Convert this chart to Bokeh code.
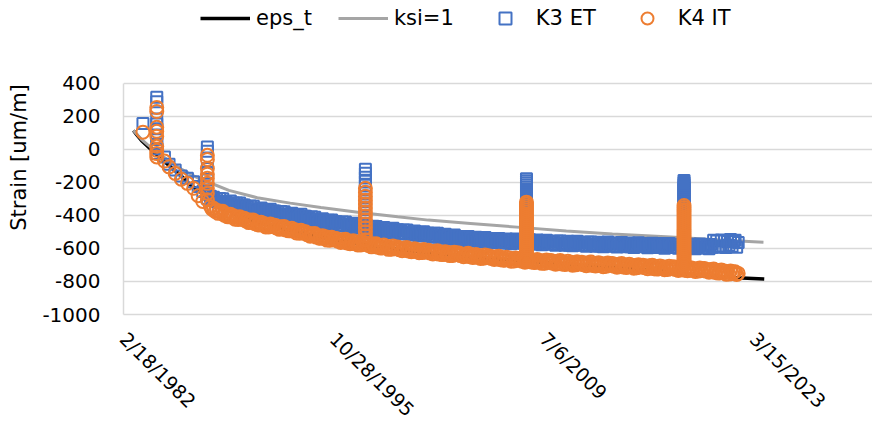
import math
import pandas as pd
from bokeh.plotting import figure
from bokeh.models import Range1d, FixedTicker, Legend, LegendItem
from bokeh.embed import file_html
from bokeh.resources import INLINE

# ---------------- data ----------------
y_ticks = [-1000, -800, -600, -400, -200, 0, 200, 400]
y_tick_labels = ["-1000", "-800", "-600", "-400", "-200", "0", "200", "400"]
x_tick_dates = ["1982-02-18", "1995-10-28", "2009-07-06", "2023-03-15"]
x_tick_labels = ["2/18/1982", "10/28/1995", "7/6/2009", "3/15/2023"]
x_start_date = "1982-02-18"
x_end_date = "2030-12-16"

# model curves (decimal year, strain um/m)
eps_years = [1982.78, 1983.0, 1983.3, 1983.7, 1984.1, 1984.6, 1985.2, 1985.9, 1986.5, 1987.5,
             1988.5, 1990.0, 1992.0, 1994.0, 1996.0, 1998.0, 2000.0, 2003.0, 2006.0, 2009.0,
             2012.0, 2015.0, 2017.0, 2019.5, 2021.0, 2023.9]
eps_t = [115, 88, 55, 20, -15, -55, -105, -160, -215, -280,
         -345, -420, -470, -510, -550, -580, -605, -635, -660, -680,
         -700, -720, -735, -762, -772, -785]

ksi_years = [1982.78, 1983.0, 1983.3, 1983.7, 1984.1, 1984.6, 1985.2, 1985.9, 1986.5, 1987.2,
             1987.8, 1989.0, 1990.85, 1993.0, 1995.0, 1997.4, 2000.0, 2002.0, 2004.75, 2008.0,
             2011.0, 2014.0, 2017.8, 2021.0, 2023.85]
ksi_1 = [115, 92, 62, 30, 0, -35, -75, -118, -150, -183,
         -203, -248, -292, -325, -352, -380, -408, -428, -448, -472,
         -494, -512, -530, -549, -562]

# measurements: early readings (incl. two spikes)
early_years = [1983.4,
               1984.3, 1984.3, 1984.3, 1984.3, 1984.3, 1984.3, 1984.3, 1984.3, 1984.3,
               1984.8, 1985.1, 1985.5, 1985.9, 1986.3, 1986.7, 1987.0, 1987.3,
               1987.6, 1987.6, 1987.6, 1987.6, 1987.6, 1987.6, 1987.6, 1987.6, 1987.6]
early_k3 = [158,
            317, 290, 185, 155, 125, 60, 30, 5, -25,
            -45, -90, -125, -160, -175, -195, -225, -255,
            15, -10, -115, -140, -185, -210, -245, -270, -295]
early_k4 = [105,
            255, 230, 135, 110, 80, 20, -5, -25, -45,
            -70, -105, -145, -180, -205, -235, -280, -315,
            -35, -60, -115, -150, -175, -205, -235, -265, -305]

# regular readings (every ~0.1 year)
band_years = [1987.8, 1987.9,
    1988.0, 1988.1, 1988.2, 1988.3, 1988.4, 1988.5, 1988.6, 1988.7, 1988.8, 1988.9,
    1989.0, 1989.1, 1989.2, 1989.3, 1989.4, 1989.5, 1989.6, 1989.7, 1989.8, 1989.9,
    1990.0, 1990.1, 1990.2, 1990.3, 1990.4, 1990.5, 1990.6, 1990.7, 1990.8, 1990.9,
    1991.0, 1991.1, 1991.2, 1991.3, 1991.4, 1991.5, 1991.6, 1991.7, 1991.8, 1991.9,
    1992.0, 1992.1, 1992.2, 1992.3, 1992.4, 1992.5, 1992.6, 1992.7, 1992.8, 1992.9,
    1993.0, 1993.1, 1993.2, 1993.3, 1993.4, 1993.5, 1993.6, 1993.7, 1993.8, 1993.9,
    1994.0, 1994.1, 1994.2, 1994.3, 1994.4, 1994.5, 1994.6, 1994.7, 1994.8, 1994.9,
    1995.0, 1995.1, 1995.2, 1995.3, 1995.4, 1995.5, 1995.6, 1995.7, 1995.8, 1995.9,
    1996.0, 1996.1, 1996.2, 1996.3, 1996.4, 1996.5, 1996.6, 1996.7, 1996.8, 1996.9,
    1997.0, 1997.1, 1997.2, 1997.3, 1997.4, 1997.5, 1997.6, 1997.7, 1997.8, 1997.9,
    1998.0, 1998.1, 1998.2, 1998.3, 1998.4, 1998.5, 1998.6, 1998.7, 1998.8, 1998.9,
    1999.0, 1999.1, 1999.2, 1999.3, 1999.4, 1999.5, 1999.6, 1999.7, 1999.8, 1999.9,
    2000.0, 2000.1, 2000.2, 2000.3, 2000.4, 2000.5, 2000.6, 2000.7, 2000.8, 2000.9,
    2001.0, 2001.1, 2001.2, 2001.3, 2001.4, 2001.5, 2001.6, 2001.7, 2001.8, 2001.9,
    2002.0, 2002.1, 2002.2, 2002.3, 2002.4, 2002.5, 2002.6, 2002.7, 2002.8, 2002.9,
    2003.0, 2003.1, 2003.2, 2003.3, 2003.4, 2003.5, 2003.6, 2003.7, 2003.8, 2003.9,
    2004.0, 2004.1, 2004.2, 2004.3, 2004.4, 2004.5, 2004.6, 2004.7, 2004.8, 2004.9,
    2005.0, 2005.1, 2005.2, 2005.3, 2005.4, 2005.5, 2005.6, 2005.7, 2005.8, 2005.9,
    2006.0, 2006.1, 2006.2, 2006.3, 2006.4, 2006.5, 2006.6, 2006.7, 2006.8, 2006.9,
    2007.0, 2007.1, 2007.2, 2007.3, 2007.4, 2007.5, 2007.6, 2007.7, 2007.8, 2007.9,
    2008.0, 2008.1, 2008.2, 2008.3, 2008.4, 2008.5, 2008.6, 2008.7, 2008.8, 2008.9,
    2009.0, 2009.1, 2009.2, 2009.3, 2009.4, 2009.5, 2009.6, 2009.7, 2009.8, 2009.9,
    2010.0, 2010.1, 2010.2, 2010.3, 2010.4, 2010.5, 2010.6, 2010.7, 2010.8, 2010.9,
    2011.0, 2011.1, 2011.2, 2011.3, 2011.4, 2011.5, 2011.6, 2011.7, 2011.8, 2011.9,
    2012.0, 2012.1, 2012.2, 2012.3, 2012.4, 2012.5, 2012.6, 2012.7, 2012.8, 2012.9,
    2013.0, 2013.1, 2013.2, 2013.3, 2013.4, 2013.5, 2013.6, 2013.7, 2013.8, 2013.9,
    2014.0, 2014.1, 2014.2, 2014.3, 2014.4, 2014.5, 2014.6, 2014.7, 2014.8, 2014.9,
    2015.0, 2015.1, 2015.2, 2015.3, 2015.4, 2015.5, 2015.6, 2015.7, 2015.8, 2015.9,
    2016.0, 2016.1, 2016.2, 2016.3, 2016.4, 2016.5, 2016.6, 2016.7, 2016.8, 2016.9,
    2017.0, 2017.1, 2017.2, 2017.3, 2017.4, 2017.5, 2017.6, 2017.7, 2017.8, 2017.9,
    2018.0, 2018.1, 2018.2, 2018.3, 2018.4, 2018.5, 2018.6, 2018.7, 2018.8, 2018.9,
    2019.0, 2019.1, 2019.2, 2019.3, 2019.4, 2019.5, 2019.6, 2019.7, 2019.8, 2019.9,
    2020.0, 2020.1, 2020.2, 2020.3, 2020.4, 2020.5, 2020.6, 2020.7, 2020.8, 2020.9,
    2021.0, 2021.1, 2021.2, 2021.3, 2021.4, 2021.5, 2021.6, 2021.7, 2021.8, 2021.9,
    2022.0, 2022.1, 2022.2]
band_k3 = [-284, -305,
    -290, -310, -299, -319, -297, -316, -299, -324, -315, -332,
    -329, -312, -338, -324, -346, -325, -339, -324, -348, -337,
    -337, -357, -345, -365, -342, -361, -344, -368, -359, -375,
    -372, -355, -379, -365, -386, -364, -378, -362, -386, -373,
    -373, -393, -380, -400, -376, -395, -377, -401, -391, -407,
    -403, -386, -410, -396, -417, -395, -409, -393, -417, -404,
    -404, -424, -412, -431, -408, -427, -410, -434, -424, -440,
    -437, -420, -444, -430, -451, -429, -443, -427, -451, -438,
    -438, -457, -444, -464, -440, -458, -440, -463, -454, -469,
    -465, -447, -472, -457, -478, -456, -469, -453, -476, -464,
    -463, -482, -470, -489, -465, -484, -466, -489, -479, -495,
    -491, -473, -497, -482, -503, -481, -494, -478, -501, -488,
    -487, -506, -493, -512, -488, -506, -488, -511, -501, -516,
    -512, -494, -518, -503, -524, -501, -514, -498, -521, -508,
    -507, -526, -513, -532, -508, -526, -508, -531, -521, -536,
    -532, -514, -538, -523, -544, -521, -534, -518, -541, -528,
    -527, -546, -533, -551, -527, -545, -527, -550, -539, -554,
    -550, -532, -555, -540, -560, -537, -550, -533, -556, -542,
    -541, -560, -546, -565, -540, -558, -539, -562, -551, -566,
    -561, -542, -566, -550, -571, -547, -559, -543, -565, -552,
    -550, -568, -555, -573, -548, -566, -547, -569, -559, -573,
    -568, -549, -573, -557, -578, -554, -566, -550, -572, -559,
    -557, -575, -562, -580, -555, -573, -554, -576, -566, -580,
    -575, -556, -580, -564, -584, -561, -573, -556, -579, -565,
    -563, -581, -568, -586, -561, -579, -560, -582, -572, -586,
    -581, -562, -585, -570, -590, -566, -578, -561, -584, -570,
    -568, -586, -572, -591, -566, -583, -564, -586, -576, -590,
    -585, -566, -589, -574, -594, -570, -582, -565, -588, -574,
    -572, -590, -576, -595, -570, -587, -568, -590, -580, -594,
    -589, -570, -593, -578, -598, -574, -586, -569, -592, -578,
    -576, -594, -580, -599, -574, -591, -572, -594, -584, -598,
    -593, -574, -597, -581, -601, -578, -590, -573, -595, -581,
    -579, -597, -583, -601, -576, -593, -550, -588, -555, -592,
    -590, -548, -585, -552, -594, -558, -580, -546, -588, -554,
    -550, -592, -564]
band_k4 = [-345, -362,
    -356, -375, -369, -387, -372, -385, -374, -398, -389, -407,
    -407, -393, -409, -402, -422, -411, -424, -407, -423, -416,
    -416, -433, -427, -443, -428, -439, -427, -450, -440, -457,
    -456, -441, -457, -449, -469, -457, -469, -451, -467, -459,
    -459, -476, -468, -484, -468, -479, -466, -488, -478, -493,
    -492, -477, -494, -486, -506, -495, -508, -490, -506, -499,
    -499, -516, -509, -526, -510, -521, -509, -531, -522, -538,
    -537, -522, -538, -529, -549, -537, -550, -532, -547, -539,
    -539, -555, -548, -563, -547, -557, -544, -566, -555, -571,
    -569, -553, -569, -560, -579, -567, -579, -560, -575, -567,
    -566, -582, -575, -590, -573, -584, -571, -592, -581, -597,
    -595, -579, -594, -586, -605, -592, -604, -585, -601, -592,
    -591, -607, -599, -614, -597, -607, -594, -615, -604, -619,
    -617, -601, -616, -607, -626, -613, -625, -606, -621, -612,
    -611, -627, -619, -633, -616, -626, -613, -634, -622, -637,
    -635, -619, -634, -624, -643, -630, -642, -623, -637, -628,
    -627, -643, -635, -650, -633, -643, -629, -650, -639, -654,
    -652, -636, -651, -642, -661, -648, -659, -640, -655, -646,
    -645, -661, -653, -667, -650, -660, -647, -668, -656, -671,
    -669, -653, -668, -658, -677, -664, -676, -657, -671, -662,
    -661, -677, -668, -683, -665, -675, -662, -682, -671, -685,
    -683, -667, -681, -672, -690, -677, -689, -669, -684, -674,
    -673, -689, -680, -695, -677, -687, -673, -694, -682, -697,
    -694, -678, -692, -683, -701, -688, -699, -680, -694, -685,
    -683, -698, -690, -704, -687, -696, -682, -703, -691, -706,
    -703, -686, -701, -691, -710, -696, -707, -688, -702, -693,
    -691, -707, -698, -713, -695, -705, -691, -712, -700, -715,
    -712, -696, -710, -701, -719, -706, -717, -698, -712, -703,
    -701, -717, -708, -723, -705, -715, -701, -722, -710, -725,
    -722, -706, -720, -711, -729, -716, -727, -708, -722, -713,
    -711, -727, -718, -733, -715, -725, -711, -732, -720, -735,
    -732, -716, -730, -721, -739, -726, -737, -718, -732, -723,
    -721, -737, -729, -744, -727, -737, -724, -745, -734, -749,
    -747, -731, -746, -737, -756, -743, -755, -736, -751, -742,
    -741, -758, -751]

# later spikes (dense readings)
spike_years = [1997.9] * 14 + [2008.4] * 31 + [2018.67] * 31
spike_k3 = [-120, -144, -168, -192, -216, -240, -264, -288, -312, -336, -360, -384, -408, -432,
            -178, -190, -202, -214, -226, -238, -250, -262, -274, -286, -298, -310, -322, -334, -346,
            -358, -370, -382, -394, -406, -418, -430, -442, -454, -466, -478, -490, -502, -514, -526, -538,
            -188, -200, -212, -224, -236, -248, -260, -272, -284, -296, -308, -320, -332, -344, -356,
            -368, -380, -392, -404, -416, -428, -440, -452, -464, -476, -488, -500, -512, -524, -536, -548]
spike_k4 = [-235, -259, -283, -307, -331, -355, -379, -403, -427, -451, -475, -499, -523, -547,
            -319, -331, -343, -355, -367, -379, -391, -403, -415, -427, -439, -451, -463, -475, -487,
            -499, -511, -523, -535, -547, -559, -571, -583, -595, -607, -619, -631, -643, -655, -667, -679,
            -339, -351, -363, -375, -387, -399, -411, -423, -435, -447, -459, -471, -483, -495, -507,
            -519, -531, -543, -555, -567, -579, -591, -603, -615, -627, -639, -651, -663, -675, -687, -699]


def to_dt(y):
    yr = int(y)
    start = pd.Timestamp(year=yr, month=1, day=1)
    end = pd.Timestamp(year=yr + 1, month=1, day=1)
    return start + (end - start) * (y - yr)


def ms(ts):
    return pd.Timestamp(ts).value / 1e6


meas_years = early_years + band_years + spike_years
k3_et = early_k3 + band_k3 + spike_k3
k4_it = early_k4 + band_k4 + spike_k4

meas_x = [to_dt(v) for v in meas_years]
eps_x = [to_dt(v) for v in eps_years]
ksi_x = [to_dt(v) for v in ksi_years]

FONT = "DejaVu Sans"

# the frame reaches the top of the figure so that the legend above the
# 400 grid line lies inside it; the y axis itself is bounded to -1000..400
p = figure(width=872, height=434, x_axis_type="datetime",
           x_range=Range1d(ms(x_start_date), ms(x_end_date)),
           y_range=Range1d(-1000, 903),
           output_backend="svg", toolbar_location=None,
           min_border_left=123, min_border_right=0,
           min_border_top=0, min_border_bottom=120)
p.outline_line_color = None
p.background_fill_color = "white"
p.border_fill_color = "white"

p.xgrid.visible = False
p.ygrid.grid_line_color = "#D9D9D9"
p.ygrid.grid_line_width = 1.5

p.yaxis.ticker = FixedTicker(ticks=y_ticks)
p.yaxis.bounds = (y_ticks[0], y_ticks[-1])
p.yaxis.major_label_overrides = {t: lab for t, lab in zip(y_ticks, y_tick_labels)}
p.xaxis.ticker = FixedTicker(ticks=[ms(d) for d in x_tick_dates])
p.xaxis.major_label_overrides = {ms(d): lab for d, lab in zip(x_tick_dates, x_tick_labels)}
p.xaxis.major_label_orientation = -math.pi / 4

for ax in (p.xaxis[0], p.yaxis[0]):
    ax.axis_line_color = "#D9D9D9"
    ax.axis_line_width = 1.5
    ax.major_tick_line_color = None
    ax.minor_tick_line_color = None
    ax.major_tick_out = 0
    ax.major_tick_in = 0
    ax.major_label_text_font = FONT
    ax.major_label_text_color = "black"

p.yaxis.major_label_text_font_size = "20px"
p.xaxis.major_label_text_font_size = "19px"
p.xaxis.major_label_standoff = 21
p.yaxis.major_label_standoff = 23
p.yaxis.axis_label = "Strain [um/m]"
p.yaxis.axis_label_text_font = FONT
p.yaxis.axis_label_text_font_size = "21px"
p.yaxis.axis_label_text_font_style = "normal"
p.yaxis.axis_label_text_color = "black"
p.yaxis.axis_label_standoff = 8

r_eps = p.line(eps_x, eps_t, line_color="black", line_width=3.5)
r_ksi = p.line(ksi_x, ksi_1, line_color="#A5A5A5", line_width=3)
r_k3 = p.scatter(meas_x, k3_et, marker="square", size=11, fill_color=None,
                 line_color="#4472C4", line_width=2)
r_k4 = p.scatter(meas_x, k4_it, marker="circle", size=13, fill_color=None,
                 line_color="#ED7D31", line_width=2)

legend = Legend(items=[LegendItem(label="eps_t", renderers=[r_eps]),
                       LegendItem(label="ksi=1", renderers=[r_ksi]),
                       LegendItem(label="K3 ET", renderers=[r_k3]),
                       LegendItem(label="K4 IT", renderers=[r_k4])],
                orientation="horizontal", location=(77, 281),
                padding=0, margin=0, spacing=26,
                glyph_width=50, glyph_height=30, label_standoff=6,
                label_text_font=FONT, label_text_font_size="21px",
                label_text_color="black",
                border_line_color=None, background_fill_alpha=0)
p.add_layout(legend, "center")

open("out.html", "w").write(file_html(p, INLINE))
